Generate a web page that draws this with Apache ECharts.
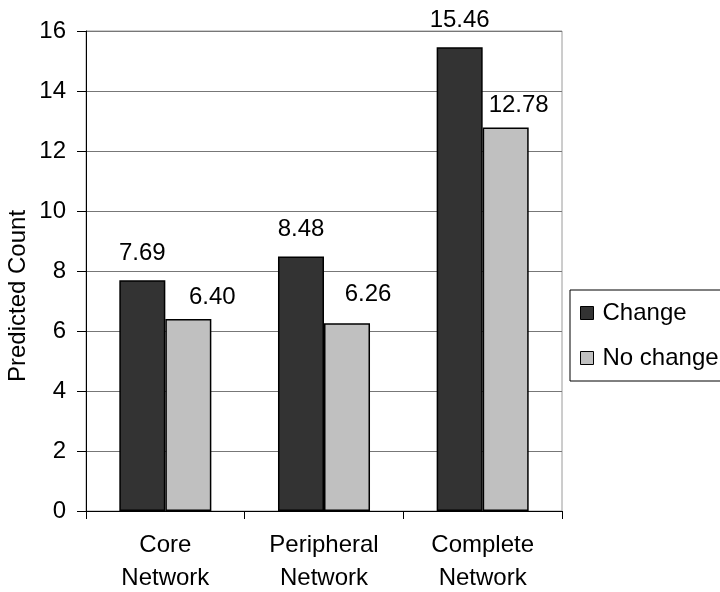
<!DOCTYPE html>
<html>
<head>
<meta charset="utf-8">
<title>Predicted Count</title>
<script src="https://cdn.jsdelivr.net/npm/echarts@6/dist/echarts.min.js"></script>
<style>
  html, body { margin: 0; padding: 0; background: #ffffff; }
  #chart { width: 720px; height: 592px; }
</style>
</head>
<body>
<div id="chart"></div>
<script>
// Categories and series values
const categories = ['Core\nNetwork', 'Peripheral\nNetwork', 'Complete\nNetwork'];
const changeValues = [7.69, 8.48, 15.46];
const noChangeValues = [6.40, 6.26, 12.78];
const seriesNames = ['Change', 'No change'];
const yTicks = [0, 2, 4, 6, 8, 10, 12, 14, 16];
const yAxisTitle = 'Predicted Count';

// Small label nudges [dx, dy] for each value label
const changeLabelNudge = [[0, 0], [0, 0], [0, 0]];
const noChangeLabelNudge = [[24, 5], [21, -2], [13, 5]];

const FONT = '"Liberation Sans", Arial, sans-serif';
const FS = 24;

function withLabels(values, nudges) {
  return values.map((v, i) => ({
    value: v,
    label: { offset: nudges[i] }
  }));
}

const chart = echarts.init(document.getElementById('chart'), null, { renderer: 'canvas' });

const valueLabel = {
  show: true, position: 'top', distance: 15,
  fontFamily: FONT, fontSize: FS, color: '#000',
  formatter: p => p.value.toFixed(2)
};

chart.setOption({
  backgroundColor: '#ffffff',
  animation: false,
  textStyle: { fontFamily: FONT, color: '#000' },
  grid: {
    left: 86, right: 158, top: 31, bottom: 81,
    containLabel: false,
    outerBoundsMode: 'none',
    show: true, borderColor: '#9a9a9a', borderWidth: 1,
    backgroundColor: 'transparent'
  },
  legend: {
    orient: 'vertical',
    left: 570, top: 290,
    padding: [11, 60, 11, 10],
    itemGap: 21,
    itemWidth: 13, itemHeight: 13,
    borderColor: '#000', borderWidth: 1,
    backgroundColor: '#fff',
    textStyle: { fontFamily: FONT, fontSize: FS, color: '#000', padding: [0, 0, 0, 4] },
    data: seriesNames.map(n => ({
      name: n, icon: 'rect',
      itemStyle: { borderColor: '#000', borderWidth: 1 }
    }))
  },
  graphic: [{
    type: 'text',
    x: 18, y: 296,
    rotation: Math.PI / 2,
    style: {
      text: yAxisTitle,
      font: FS + 'px ' + FONT,
      fill: '#000',
      align: 'center',
      verticalAlign: 'middle'
    }
  }],
  xAxis: {
    type: 'category',
    data: categories,
    boundaryGap: true,
    axisLine: { lineStyle: { color: '#000', width: 1 } },
    axisTick: { show: true, length: 8, lineStyle: { color: '#000' } },
    axisLabel: {
      fontFamily: FONT, fontSize: FS, color: '#000',
      margin: 18, lineHeight: 33, interval: 0
    },
    splitLine: { show: false }
  },
  yAxis: {
    type: 'value',
    min: yTicks[0],
    max: yTicks[yTicks.length - 1],
    interval: yTicks[1] - yTicks[0],
    axisLine: { show: true, lineStyle: { color: '#000', width: 1 } },
    axisTick: { show: true, length: 9, lineStyle: { color: '#000' } },
    axisLabel: { fontFamily: FONT, fontSize: FS, color: '#000', margin: 20 },
    splitLine: { show: true, lineStyle: { color: '#777', width: 1 } }
  },
  series: [
    {
      name: seriesNames[0],
      type: 'bar',
      data: withLabels(changeValues, changeLabelNudge),
      barGap: '0%',
      barCategoryGap: '42%',
      itemStyle: { color: '#333333', borderColor: '#000', borderWidth: 1.5 },
      label: valueLabel
    },
    {
      name: seriesNames[1],
      type: 'bar',
      data: withLabels(noChangeValues, noChangeLabelNudge),
      barGap: '0%',
      barCategoryGap: '42%',
      itemStyle: { color: '#c0c0c0', borderColor: '#000', borderWidth: 1.5 },
      label: valueLabel
    }
  ]
});
</script>
</body>
</html>
